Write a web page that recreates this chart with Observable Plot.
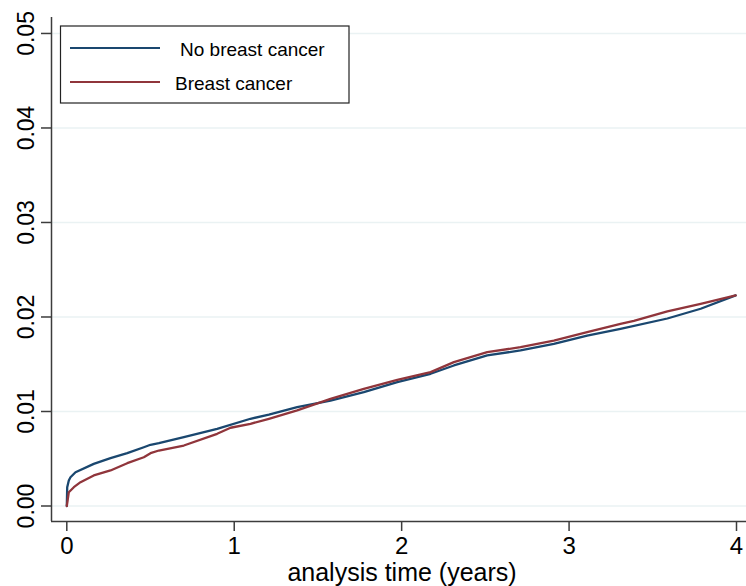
<!DOCTYPE html>
<html>
<head>
<meta charset="utf-8">
<script src="https://cdn.jsdelivr.net/npm/d3@7"></script>
<script src="https://cdn.jsdelivr.net/npm/@observablehq/plot@0.6"></script>
<style>
  html, body { margin: 0; padding: 0; background: #fff; }
  #wrap { position: relative; width: 746px; height: 586px; }
  #legend { position: absolute; left: 0; top: 0; pointer-events: none; }
</style>
</head>
<body>
<div id="wrap"></div>
<script>
// ---- data ----
const seriesNames = ["No breast cancer", "Breast cancer"];
const seriesColors = ["#1a476f", "#90353b"];

const noBcTime  = [0, 0.0024, 0.012, 0.022, 0.052, 0.161, 0.261, 0.361, 0.460, 0.500, 0.550, 0.699, 0.898, 1.097, 1.207, 1.376, 1.575, 1.774, 1.974, 2.173, 2.312, 2.511, 2.710, 2.909, 3.108, 3.307, 3.587, 3.786, 3.995];
const noBcValue = [0, 0.00199, 0.00270, 0.00304, 0.00357, 0.00446, 0.00506, 0.00559, 0.00622, 0.00648, 0.00665, 0.00728, 0.00817, 0.00923, 0.00968, 0.01046, 0.01116, 0.01204, 0.01310, 0.01399, 0.01487, 0.01593, 0.01646, 0.01716, 0.01804, 0.01875, 0.01984, 0.02087, 0.02228];

const bcTime  = [0, 0.012, 0.042, 0.082, 0.161, 0.261, 0.361, 0.460, 0.500, 0.550, 0.699, 0.898, 0.978, 1.097, 1.207, 1.376, 1.575, 1.774, 1.974, 2.173, 2.312, 2.511, 2.710, 2.909, 3.108, 3.307, 3.387, 3.587, 3.786, 3.995];
const bcValue = [0, 0.00146, 0.00199, 0.00252, 0.00323, 0.00376, 0.00453, 0.00516, 0.00559, 0.00587, 0.00640, 0.00764, 0.00828, 0.00870, 0.00923, 0.01011, 0.01134, 0.01240, 0.01335, 0.01416, 0.01522, 0.01628, 0.01680, 0.01751, 0.01839, 0.01928, 0.01960, 0.02060, 0.02140, 0.02228];

const xTicks = [0, 1, 2, 3, 4];
const xTickLabels = ["0", "1", "2", "3", "4"];
const yTicks = [0, 0.01, 0.02, 0.03, 0.04, 0.05];
const yTickLabels = ["0.00", "0.01", "0.02", "0.03", "0.04", "0.05"];
const xTitle = "analysis time (years)";

// ---- build tables ----
const rows = [];
noBcTime.forEach((t, i) => rows.push({series: seriesNames[0], t, v: noBcValue[i]}));
bcTime.forEach((t, i) => rows.push({series: seriesNames[1], t, v: bcValue[i]}));
const yTickRows = yTicks.map((v, i) => ({v, label: yTickLabels[i]}));

const xDomain = [-0.0914, 4.0597];
const yDomain = [-0.00164, 0.05169];
const axisColor = "#3c3c3c";
const font = "'Liberation Sans', Arial, Helvetica, sans-serif";

const chart = Plot.plot({
  width: 746,
  height: 586,
  marginLeft: 51,
  marginRight: 0,
  marginTop: 17,
  marginBottom: 65,
  x: {domain: xDomain},
  y: {domain: yDomain},
  color: {domain: seriesNames, range: seriesColors},
  style: {fontFamily: font, fontSize: "24px", color: "#000", background: "#fff", overflow: "visible"},
  marks: [
    Plot.ruleY(yTicks, {stroke: "#eaf2f3", strokeWidth: 1.5}),
    Plot.line(rows, {x: "t", y: "v", z: "series", stroke: "series", strokeWidth: 2.3}),
    Plot.ruleX([xDomain[0]], {stroke: axisColor, strokeWidth: 1.5}),
    Plot.ruleY([yDomain[0]], {stroke: axisColor, strokeWidth: 1.5}),
    Plot.axisY({ticks: yTicks, tickSize: 10, tickFormat: () => "", stroke: axisColor, strokeWidth: 1.5, label: null}),
    Plot.text(yTickRows, {x: xDomain[0], y: "v", text: "label", rotate: -90, dx: -24.5,
      textAnchor: "middle", lineAnchor: "middle", fontSize: 23, fill: "#000"}),
    Plot.axisX({ticks: xTicks, tickSize: 10, tickPadding: 5, tickFormat: (d, i) => xTickLabels[xTicks.indexOf(d)],
      stroke: axisColor, strokeWidth: 1.5, fontSize: 24, label: null}),
    Plot.text([xTitle], {frameAnchor: "bottom", dx: 3, dy: 51.3, lineAnchor: "middle", fontSize: 25, fill: "#000"})
  ]
});

const wrap = document.getElementById("wrap");
wrap.appendChild(chart);

// ---- legend (overlay) ----
const leg = d3.select(wrap).append("svg")
  .attr("id", "legend").attr("width", 746).attr("height", 586)
  .style("font-family", font);
leg.append("rect").attr("x", 60.5).attr("y", 26).attr("width", 288.5).attr("height", 77)
  .attr("fill", "#fff").attr("stroke", "#222").attr("stroke-width", 1.2);
const legRows = [
  {name: seriesNames[0], color: seriesColors[0], y: 48, tx: 180},
  {name: seriesNames[1], color: seriesColors[1], y: 82, tx: 175}
];
legRows.forEach(r => {
  leg.append("line").attr("x1", 70).attr("x2", 160).attr("y1", r.y).attr("y2", r.y)
    .attr("stroke", r.color).attr("stroke-width", 2);
  leg.append("text").attr("x", r.tx).attr("y", r.y + 8).attr("font-size", 19)
    .attr("fill", "#000").text(r.name);
});
</script>
</body>
</html>
